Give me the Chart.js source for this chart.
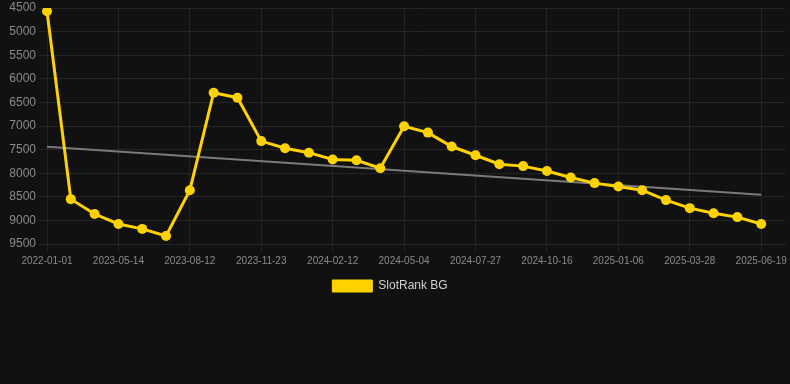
<!DOCTYPE html>
<html>
<head>
<meta charset="utf-8">
<script src="https://cdn.jsdelivr.net/npm/chart.js@4/dist/chart.umd.min.js"></script>
<style>
  html, body { margin: 0; padding: 0; background: #111111; }
  #wrap { width: 790px; height: 302px; position: relative; }
</style>
</head>
<body>
<div id="wrap"><canvas id="rankChart"></canvas></div>
<script>
// dates (only every 3rd one is shown on the axis)
const dates = [
  '2022-01-01', '2023-03-15', '2023-04-14', '2023-05-14', '2023-06-13', '2023-07-13',
  '2023-08-12', '2023-09-15', '2023-10-19', '2023-11-23', '2023-12-20', '2024-01-16',
  '2024-02-12', '2024-03-10', '2024-04-07', '2024-05-04', '2024-06-01', '2024-06-29',
  '2024-07-27', '2024-08-23', '2024-09-19', '2024-10-16', '2024-11-12', '2024-12-09',
  '2025-01-06', '2025-02-02', '2025-03-01', '2025-03-28', '2025-04-24', '2025-05-22',
  '2025-06-19', '2025-07-16'
];

// rank values
const rank = [
  4570, 8550, 8865, 9075, 9180, 9330,
  8360, 6295, 6400, 7320, 7470, 7565,
  7710, 7725, 7895, 7005, 7140, 7435,
  7620, 7810, 7850, 7955, 8090, 8210,
  8280, 8360, 8570, 8740, 8850, 8930,
  9075, null
];

// grey trend line, only its two ends
const trend = [
  7440, null, null, null, null, null,
  null, null, null, null, null, null,
  null, null, null, null, null, null,
  null, null, null, null, null, null,
  null, null, null, null, null, null,
  8455, null
];

const yTicks = [4500, 5000, 5500, 6000, 6500, 7000, 7500, 8000, 8500, 9000, 9500];

const ctx = document.getElementById('rankChart').getContext('2d');
const gridColor = '#242424';
const fontFamily = 'Liberation Sans, Arial, sans-serif';

// nudge the legend a few px left, like the original
const legendShift = {
  id: 'legendShift',
  afterLayout: function (chart) {
    chart.legend.left -= 4;
    chart.legend.right -= 4;
  }
};

new Chart(ctx, {
  type: 'line',
  data: {
    labels: dates,
    datasets: [
      {
        label: 'SlotRank BG',
        data: rank,
        borderColor: '#FFD200',
        backgroundColor: '#FFD200',
        borderWidth: 3,
        pointRadius: 5,
        pointHoverRadius: 5,
        pointBackgroundColor: '#FFD200',
        pointBorderWidth: 0,
        tension: 0
      },
      {
        label: 'trend',
        data: trend,
        borderColor: '#7a7a7a',
        borderWidth: 2,
        pointRadius: 0,
        spanGaps: true,
        tension: 0
      }
    ]
  },
  plugins: [legendShift],
  options: {
    responsive: true,
    maintainAspectRatio: false,
    animation: false,
    layout: { padding: { left: 0, right: 2, top: 0 } },
    plugins: {
      legend: {
        position: 'bottom',
        labels: {
          color: '#d0d0d0',
          boxWidth: 40,
          boxHeight: 12,
          font: { family: fontFamily, size: 12 },
          filter: function (item) { return item.text !== 'trend'; },
          generateLabels: function (chart) {
            let items = Chart.defaults.plugins.legend.labels.generateLabels(chart);
            items.forEach(function (it) { it.lineWidth = 1; });
            return items;
          }
        }
      },
      tooltip: { enabled: false }
    },
    scales: {
      x: {
        grid: { color: gridColor },
        border: { color: gridColor },
        ticks: {
          color: '#8a8a8a',
          maxRotation: 0,
          autoSkip: true,
          font: { family: fontFamily, size: 10 }
        }
      },
      y: {
        reverse: true,
        min: yTicks[0],
        max: yTicks[yTicks.length - 1],
        grid: { color: gridColor },
        border: { color: gridColor },
        afterBuildTicks: function (scale) {
          scale.ticks = yTicks.map(function (v) { return { value: v }; });
        },
        afterFit: function (scale) {
          scale.width = 47;
          scale.paddingTop = 8;
        },
        ticks: {
          color: '#8a8a8a',
          font: { family: fontFamily, size: 12 },
          callback: function (value) { return String(value); }
        }
      }
    }
  }
});
</script>
</body>
</html>
